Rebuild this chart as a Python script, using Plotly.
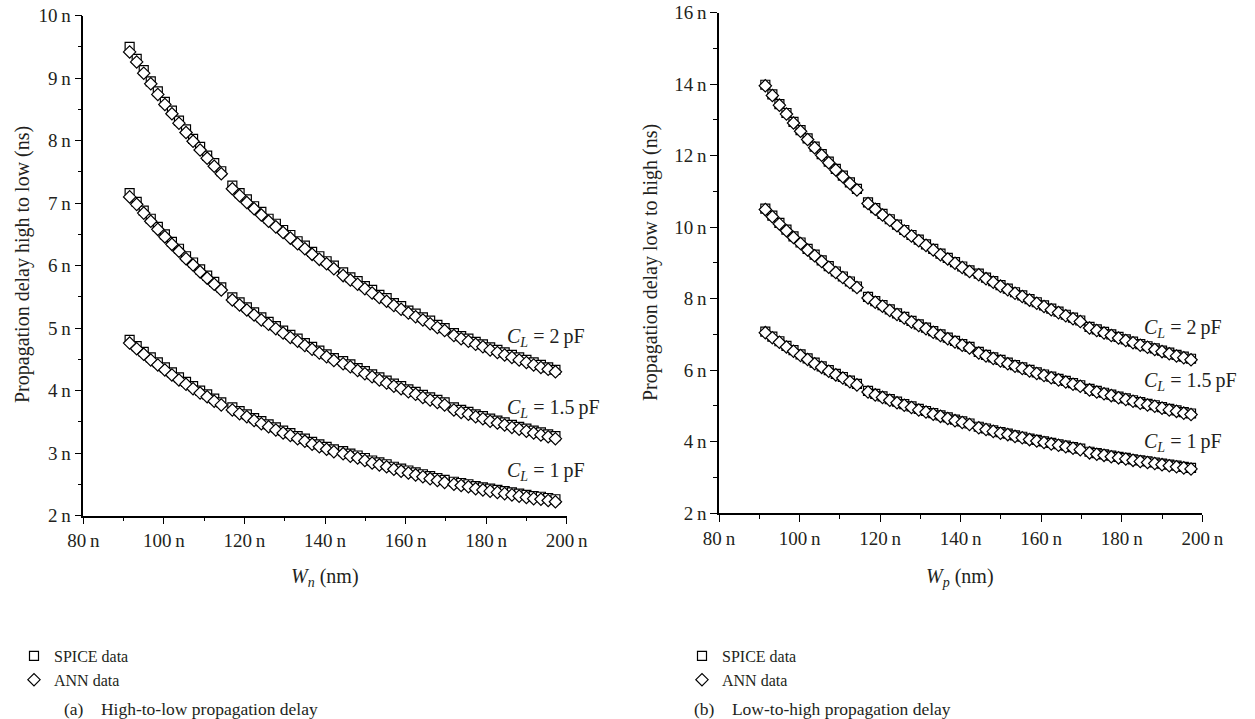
import plotly.graph_objects as go

# ---------------- data (ns vs nm) ----------------
W = [91.5, 93.25, 95.0, 96.75, 98.5, 100.25, 102.0, 103.75, 105.5, 107.25, 109.0, 110.75, 112.5, 114.25,
     117.0, 118.8, 120.6, 122.4, 124.2, 126.0, 127.8, 129.6, 131.4, 133.2, 135.0, 136.8, 138.6, 140.4, 142.2,
     144.5, 146.3, 148.1, 149.9, 151.7, 153.5, 155.3, 157.1, 158.9, 160.7, 162.5, 164.3, 166.1, 167.9, 169.7,
     172.0, 173.8, 175.6, 177.4, 179.2, 181.0, 182.8, 184.6, 186.4, 188.2, 190.0, 191.8, 193.6, 195.4, 197.2]

# (a) high-to-low
hl_ann_2 = [9.42, 9.26, 9.08, 8.91, 8.74, 8.58, 8.43, 8.28, 8.13, 7.99, 7.85, 7.72, 7.59, 7.47,
            7.23, 7.12, 7.01, 6.91, 6.81, 6.71, 6.62, 6.53, 6.44, 6.35, 6.27, 6.18, 6.10, 6.03, 5.95,
            5.84, 5.77, 5.70, 5.63, 5.56, 5.49, 5.43, 5.36, 5.30, 5.24, 5.18, 5.13, 5.07, 5.01, 4.96,
            4.88, 4.83, 4.79, 4.74, 4.70, 4.65, 4.61, 4.57, 4.53, 4.49, 4.45, 4.41, 4.37, 4.34, 4.30]
hl_spice_2 = [9.50, 9.31, 9.13, 8.95, 8.79, 8.62, 8.48, 8.32, 8.18, 8.03, 7.90, 7.76, 7.64, 7.51,
              7.28, 7.16, 7.06, 6.95, 6.86, 6.75, 6.67, 6.57, 6.49, 6.39, 6.32, 6.22, 6.15, 6.07, 6.00,
              5.89, 5.81, 5.75, 5.67, 5.61, 5.53, 5.48, 5.40, 5.35, 5.28, 5.23, 5.17, 5.12, 5.05, 5.00,
              4.92, 4.87, 4.83, 4.78, 4.74, 4.69, 4.65, 4.61, 4.57, 4.53, 4.49, 4.45, 4.41, 4.37, 4.33]
hl_ann_15 = [7.10, 6.98, 6.84, 6.71, 6.58, 6.46, 6.34, 6.23, 6.11, 6.01, 5.90, 5.80, 5.70, 5.61,
             5.45, 5.37, 5.29, 5.21, 5.13, 5.06, 4.99, 4.92, 4.85, 4.79, 4.72, 4.66, 4.60, 4.54, 4.48,
             4.43, 4.38, 4.32, 4.27, 4.22, 4.17, 4.12, 4.07, 4.03, 3.98, 3.94, 3.89, 3.85, 3.81, 3.77,
             3.69, 3.65, 3.62, 3.58, 3.55, 3.51, 3.48, 3.45, 3.41, 3.38, 3.35, 3.32, 3.29, 3.26, 3.23]
hl_spice_15 = [7.16, 7.02, 6.88, 6.75, 6.62, 6.50, 6.38, 6.27, 6.15, 6.05, 5.94, 5.84, 5.74, 5.65,
               5.49, 5.41, 5.33, 5.25, 5.17, 5.10, 5.03, 4.96, 4.89, 4.83, 4.76, 4.70, 4.64, 4.58, 4.52,
               4.47, 4.42, 4.36, 4.31, 4.26, 4.21, 4.16, 4.11, 4.07, 4.02, 3.98, 3.93, 3.89, 3.85, 3.81,
               3.73, 3.69, 3.66, 3.62, 3.59, 3.55, 3.52, 3.49, 3.45, 3.42, 3.39, 3.36, 3.33, 3.30, 3.27]
hl_ann_1 = [4.76, 4.67, 4.58, 4.49, 4.41, 4.33, 4.25, 4.17, 4.10, 4.03, 3.96, 3.90, 3.83, 3.77,
            3.69, 3.63, 3.58, 3.52, 3.47, 3.42, 3.37, 3.32, 3.28, 3.23, 3.19, 3.14, 3.10, 3.06, 3.02,
            2.99, 2.95, 2.92, 2.88, 2.84, 2.81, 2.78, 2.74, 2.71, 2.68, 2.65, 2.62, 2.59, 2.56, 2.53,
            2.50, 2.48, 2.46, 2.43, 2.41, 2.39, 2.37, 2.35, 2.33, 2.31, 2.29, 2.27, 2.26, 2.24, 2.22]
hl_spice_1 = [4.81, 4.71, 4.62, 4.53, 4.45, 4.37, 4.29, 4.21, 4.14, 4.07, 4.00, 3.94, 3.87, 3.81,
              3.73, 3.67, 3.62, 3.56, 3.51, 3.46, 3.41, 3.36, 3.32, 3.27, 3.23, 3.18, 3.14, 3.10, 3.06,
              3.03, 2.99, 2.96, 2.92, 2.88, 2.85, 2.82, 2.78, 2.75, 2.72, 2.69, 2.66, 2.63, 2.60, 2.57,
              2.54, 2.52, 2.50, 2.47, 2.45, 2.43, 2.41, 2.39, 2.37, 2.35, 2.33, 2.31, 2.30, 2.28, 2.26]

# (b) low-to-high
lh_ann_2 = [13.95, 13.68, 13.41, 13.16, 12.91, 12.68, 12.45, 12.22, 12.01, 11.80, 11.60, 11.41, 11.22, 11.04,
            10.66, 10.50, 10.34, 10.19, 10.04, 9.89, 9.75, 9.62, 9.49, 9.36, 9.23, 9.11, 8.99, 8.87, 8.76,
            8.67, 8.56, 8.46, 8.35, 8.25, 8.15, 8.06, 7.96, 7.87, 7.78, 7.69, 7.61, 7.52, 7.44, 7.36,
            7.18, 7.11, 7.04, 6.97, 6.90, 6.83, 6.77, 6.70, 6.64, 6.58, 6.52, 6.46, 6.40, 6.35, 6.29]
lh_spice_2 = [13.98, 13.71, 13.44, 13.19, 12.94, 12.71, 12.48, 12.25, 12.04, 11.83, 11.63, 11.44, 11.25, 11.07,
              10.69, 10.53, 10.37, 10.22, 10.07, 9.92, 9.78, 9.65, 9.52, 9.39, 9.26, 9.14, 9.02, 8.90, 8.79,
              8.70, 8.59, 8.49, 8.38, 8.28, 8.18, 8.09, 7.99, 7.90, 7.81, 7.72, 7.64, 7.55, 7.47, 7.39,
              7.21, 7.14, 7.07, 7.00, 6.93, 6.86, 6.80, 6.73, 6.67, 6.61, 6.55, 6.49, 6.43, 6.38, 6.32]
lh_ann_15 = [10.49, 10.29, 10.09, 9.90, 9.71, 9.54, 9.36, 9.20, 9.04, 8.88, 8.73, 8.59, 8.45, 8.31,
             8.02, 7.90, 7.79, 7.67, 7.56, 7.46, 7.35, 7.25, 7.16, 7.06, 6.97, 6.88, 6.79, 6.70, 6.62,
             6.48, 6.40, 6.33, 6.26, 6.18, 6.11, 6.05, 5.98, 5.91, 5.85, 5.79, 5.73, 5.67, 5.61, 5.55,
             5.45, 5.39, 5.34, 5.29, 5.23, 5.18, 5.13, 5.08, 5.03, 4.99, 4.94, 4.89, 4.85, 4.80, 4.76]
lh_spice_15 = [10.52, 10.32, 10.12, 9.93, 9.74, 9.57, 9.39, 9.23, 9.07, 8.91, 8.76, 8.62, 8.48, 8.34,
               8.05, 7.93, 7.82, 7.70, 7.59, 7.49, 7.38, 7.28, 7.19, 7.09, 7.00, 6.91, 6.82, 6.73, 6.65,
               6.51, 6.43, 6.36, 6.29, 6.21, 6.14, 6.08, 6.01, 5.94, 5.88, 5.82, 5.76, 5.70, 5.64, 5.58,
               5.48, 5.42, 5.37, 5.32, 5.26, 5.21, 5.16, 5.11, 5.06, 5.02, 4.97, 4.92, 4.88, 4.83, 4.79]
lh_ann_1 = [7.05, 6.91, 6.78, 6.65, 6.53, 6.41, 6.30, 6.18, 6.08, 5.97, 5.87, 5.78, 5.68, 5.59,
            5.39, 5.31, 5.24, 5.16, 5.09, 5.02, 4.96, 4.89, 4.83, 4.77, 4.71, 4.65, 4.59, 4.54, 4.48,
            4.39, 4.34, 4.29, 4.24, 4.20, 4.15, 4.11, 4.06, 4.02, 3.98, 3.94, 3.90, 3.86, 3.82, 3.78,
            3.69, 3.65, 3.62, 3.58, 3.55, 3.52, 3.48, 3.45, 3.42, 3.39, 3.36, 3.33, 3.30, 3.27, 3.24]
lh_spice_1 = [7.08, 6.94, 6.81, 6.68, 6.56, 6.44, 6.33, 6.21, 6.11, 6.00, 5.90, 5.81, 5.71, 5.62,
              5.42, 5.34, 5.27, 5.19, 5.12, 5.05, 4.99, 4.92, 4.86, 4.80, 4.74, 4.68, 4.62, 4.57, 4.51,
              4.42, 4.37, 4.32, 4.27, 4.23, 4.18, 4.14, 4.09, 4.05, 4.01, 3.97, 3.93, 3.89, 3.85, 3.81,
              3.72, 3.68, 3.65, 3.61, 3.58, 3.55, 3.51, 3.48, 3.45, 3.42, 3.39, 3.36, 3.33, 3.30, 3.27]

curve_labels = ["2", "1.5", "1"]
label_pos_a = [(184.6, 4.85), (184.6, 3.72), (184.6, 2.70)]
label_pos_b = [(185.0, 7.18), (185.0, 5.69), (185.0, 3.98)]

# ---------------- styling ----------------
FONT = "Liberation Serif"
TXT = "#231f20"
sq = dict(symbol="square", size=9, color="white", line=dict(color="black", width=1.2))
dm = dict(symbol="diamond", size=9.5, color="white", line=dict(color="black", width=1.2))

fig = go.Figure()

def add_panel(spice_list, ann_list, xa, ya, leg):
    for i, s in enumerate(spice_list):
        fig.add_trace(go.Scatter(x=W, y=s, mode="markers", marker=sq, xaxis=xa, yaxis=ya,
                                 name="SPICE data", showlegend=(i == 0), legend=leg,
                                 legendrank=1))
    for i, a in enumerate(ann_list):
        fig.add_trace(go.Scatter(x=W, y=a, mode="markers", marker=dm, xaxis=xa, yaxis=ya,
                                 name="ANN data", showlegend=(i == 0), legend=leg,
                                 legendrank=2))

add_panel([hl_spice_2, hl_spice_15, hl_spice_1], [hl_ann_2, hl_ann_15, hl_ann_1], "x", "y", "legend")
add_panel([lh_spice_2, lh_spice_15, lh_spice_1], [lh_ann_2, lh_ann_15, lh_ann_1], "x2", "y2", "legend2")

W_PX, H_PX = 1255, 719
def px(xp):
    return xp / W_PX
def py(yp):
    return 1 - yp / H_PX

axis_common = dict(showline=True, linecolor="black", linewidth=1.5, ticks="outside", ticklen=7,
                   tickwidth=1.4, tickcolor="black", showgrid=False, zeroline=False,
                   tickfont=dict(family=FONT, size=19, color=TXT), ticksuffix="\u2009n",
                   mirror=False, automargin=False)
minor_common = dict(ticks="outside", ticklen=4, tickcolor="black", tickwidth=1.2, showgrid=False)

fig.update_layout(
    template="none",
    width=W_PX, height=H_PX, margin=dict(l=0, r=0, t=0, b=0, pad=0), autosize=False,
    paper_bgcolor="white", plot_bgcolor="white",
    xaxis=dict(domain=[px(83.3), px(566.7)], range=[80, 200], tick0=80, dtick=20,
               minor=dict(dtick=10, tick0=80, **minor_common), anchor="y", **axis_common),
    yaxis=dict(domain=[py(515.5), py(15.7)], range=[2, 10], tick0=2, dtick=1,
               minor=dict(dtick=0.5, tick0=2, **minor_common), anchor="x", **axis_common),
    xaxis2=dict(domain=[px(719), px(1202.3)], range=[80, 200], tick0=80, dtick=20,
                minor=dict(dtick=10, tick0=80, **minor_common), anchor="y2", **axis_common),
    yaxis2=dict(domain=[py(513.3), py(12.5)], range=[2, 16], tick0=2, dtick=2,
                minor=dict(dtick=1, tick0=2, **minor_common), anchor="x2", **axis_common),
    legend=dict(x=px(14), y=py(639), xanchor="left", yanchor="top",
                font=dict(family=FONT, size=16, color=TXT), bgcolor="rgba(0,0,0,0)",
                tracegroupgap=0, itemwidth=30, borderwidth=0),
    legend2=dict(x=px(682), y=py(639), xanchor="left", yanchor="top",
                 font=dict(family=FONT, size=16, color=TXT), bgcolor="rgba(0,0,0,0)",
                 tracegroupgap=0, itemwidth=30, borderwidth=0),
    font=dict(family=FONT, color=TXT),
    showlegend=True,
)

ann = []
for lab, (xv, yv) in zip(curve_labels, label_pos_a):
    ann.append(dict(x=xv, y=yv, xref="x", yref="y", xanchor="left", yanchor="middle", showarrow=False,
                    text=f"<i>C</i><sub><i>L</i></sub> = {lab}\u2009pF",
                    font=dict(family=FONT, size=20, color=TXT)))
for lab, (xv, yv) in zip(curve_labels, label_pos_b):
    ann.append(dict(x=xv, y=yv, xref="x2", yref="y2", xanchor="left", yanchor="middle", showarrow=False,
                    text=f"<i>C</i><sub><i>L</i></sub> = {lab}\u2009pF",
                    font=dict(family=FONT, size=20, color=TXT)))

# axis titles
ann.append(dict(x=px(325), y=py(577), xref="paper", yref="paper", showarrow=False,
                xanchor="center", yanchor="middle",
                text="<i>W<sub>n</sub></i> (nm)", font=dict(family=FONT, size=20, color=TXT)))
ann.append(dict(x=px(960), y=py(577), xref="paper", yref="paper", showarrow=False,
                xanchor="center", yanchor="middle",
                text="<i>W<sub>p</sub></i> (nm)", font=dict(family=FONT, size=20, color=TXT)))
ann.append(dict(x=px(22), y=py(265), xref="paper", yref="paper", showarrow=False, textangle=-90,
                xanchor="center", yanchor="middle",
                text="Propagation delay high to low (ns)", font=dict(family=FONT, size=20, color=TXT)))
ann.append(dict(x=px(650), y=py(263), xref="paper", yref="paper", showarrow=False, textangle=-90,
                xanchor="center", yanchor="middle",
                text="Propagation delay low to high (ns)", font=dict(family=FONT, size=20, color=TXT)))
# captions
ann.append(dict(x=px(62), y=py(709), xref="paper", yref="paper", showarrow=False,
                xanchor="left", yanchor="middle",
                text="(a)\u2003High-to-low propagation delay", font=dict(family=FONT, size=17.5, color=TXT)))
ann.append(dict(x=px(692), y=py(709), xref="paper", yref="paper", showarrow=False,
                xanchor="left", yanchor="middle",
                text="(b)\u2003Low-to-high propagation delay", font=dict(family=FONT, size=17.5, color=TXT)))

fig.update_layout(annotations=ann)
fig.write_html("out.html", config={"displayModeBar": False},
               post_script="document.body.style.margin='0';document.body.style.padding='0';"
                           "document.body.style.overflow='hidden';")
